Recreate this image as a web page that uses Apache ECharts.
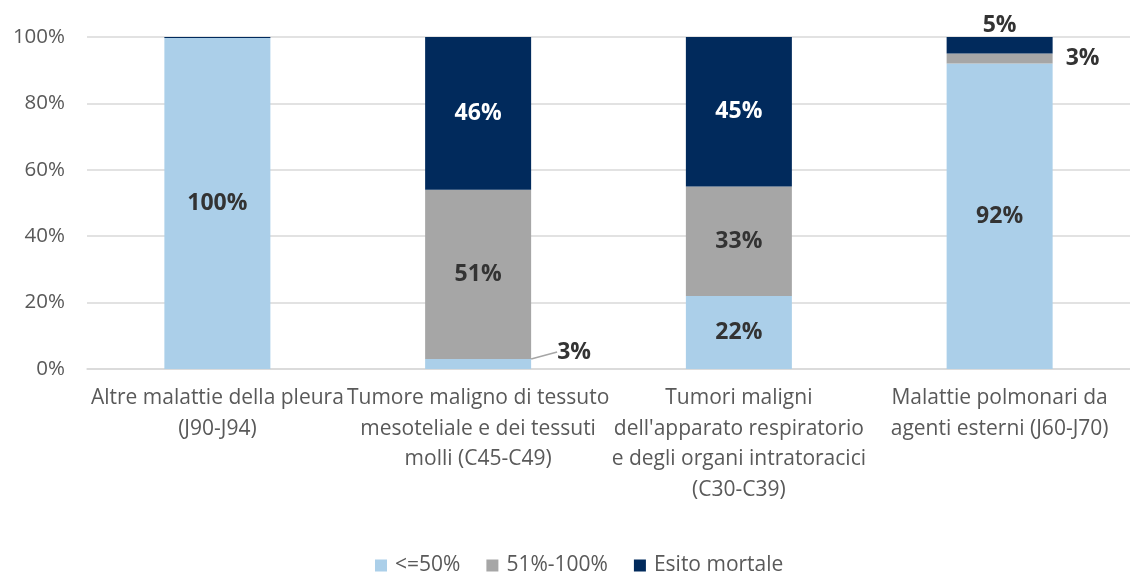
<!DOCTYPE html>
<html>
<head>
<meta charset="utf-8">
<title>Esito per gruppo di malattia</title>
<script src="https://cdn.jsdelivr.net/npm/echarts@6/dist/echarts.min.js"></script>
<style>
  html, body { margin: 0; padding: 0; background: #fff; }
  #chart { width: 1130px; height: 572px; }
</style>
</head>
<body>
<div id="chart"></div>
<script>
// categorie (asse x)
var categories = [
  'Altre malattie della pleura\n(J90-J94)',
  'Tumore maligno di tessuto\nmesoteliale e dei tessuti\nmolli (C45-C49)',
  "Tumori maligni\ndell'apparato respiratorio\ne degli organi intratoracici\n(C30-C39)",
  'Malattie polmonari da\nagenti esterni (J60-J70)'
];
var seriesNames = ['<=50%', '51%-100%', 'Esito mortale'];
// valori in percentuale
var lowValues = [99.7, 3, 22, 92];
var highValues = [0, 51, 33, 3];
var deathValues = [0.3, 46, 45, 5];
var yTicks = [0, 20, 40, 60, 80, 100];

var FONT = 'Open Sans';
var colors = ['#abcfe9', '#a6a6a6', '#012a5c'];

var chart = echarts.init(document.getElementById('chart'));

function labelText(p) {
  if (p.value < 1) return '';
  return Math.round(p.value) + '%';
}

var baseLabel = {
  show: true,
  formatter: labelText,
  fontFamily: FONT,
  fontWeight: 'bold',
  fontSize: 23,
  color: '#333'
};

// dati con qualche etichetta spostata fuori dalla barra
var lowData = lowValues.map(function (v, i) {
  if (i === 1) {
    return {
      value: v,
      label: { position: 'right', distance: 6 },
      labelLine: { show: true, lineStyle: { color: '#a6a6a6', width: 1.5 } }
    };
  }
  return v;
});
var highData = highValues.map(function (v, i) {
  if (i === 3) {
    return { value: v, label: { position: 'right', distance: 13 } };
  }
  return v;
});
var deathData = deathValues.map(function (v, i) {
  if (i === 3) {
    return { value: v, label: { position: 'top', distance: 0, color: '#333' } };
  }
  return v;
});

var option = {
  animation: false,
  color: colors,
  textStyle: { fontFamily: FONT },
  grid: { left: 87, right: -13, top: 37, bottom: 203, containLabel: false },
  legend: {
    data: seriesNames,
    top: 550,
    left: 370,
    itemWidth: 12,
    itemHeight: 12,
    itemGap: 26,
    icon: 'rect',
    textStyle: { fontFamily: FONT, fontSize: 21, color: '#595959', padding: [0, 0, 0, 3] }
  },
  xAxis: {
    type: 'category',
    data: categories,
    axisLine: { lineStyle: { color: '#d9d9d9', width: 1.5 } },
    axisTick: { show: false },
    axisLabel: {
      interval: 0,
      margin: 14,
      fontFamily: FONT,
      fontSize: 21,
      lineHeight: 30.5,
      color: '#595959'
    }
  },
  yAxis: {
    type: 'value',
    min: yTicks[0],
    max: yTicks[yTicks.length - 1],
    interval: 20,
    axisLine: { show: false },
    axisTick: { show: false },
    splitLine: { lineStyle: { color: '#d9d9d9', width: 1.5 } },
    axisLabel: {
      formatter: '{value}%',
      margin: 22,
      fontFamily: FONT,
      fontSize: 20.5,
      color: '#595959'
    }
  },
  series: [
    {
      name: seriesNames[0],
      type: 'bar',
      stack: 'tot',
      barWidth: 106,
      data: lowData,
      label: Object.assign({}, baseLabel, { position: 'inside' }),
      labelLayout: function (p) {
        if (p.dataIndex === 1) return { dx: 20, dy: -12 };
      }
    },
    {
      name: seriesNames[1],
      type: 'bar',
      stack: 'tot',
      data: highData,
      label: Object.assign({}, baseLabel, { position: 'inside' })
    },
    {
      name: seriesNames[2],
      type: 'bar',
      stack: 'tot',
      data: deathData,
      label: Object.assign({}, baseLabel, { position: 'inside', color: '#fff' })
    }
  ]
};

chart.setOption(option);
</script>
</body>
</html>
